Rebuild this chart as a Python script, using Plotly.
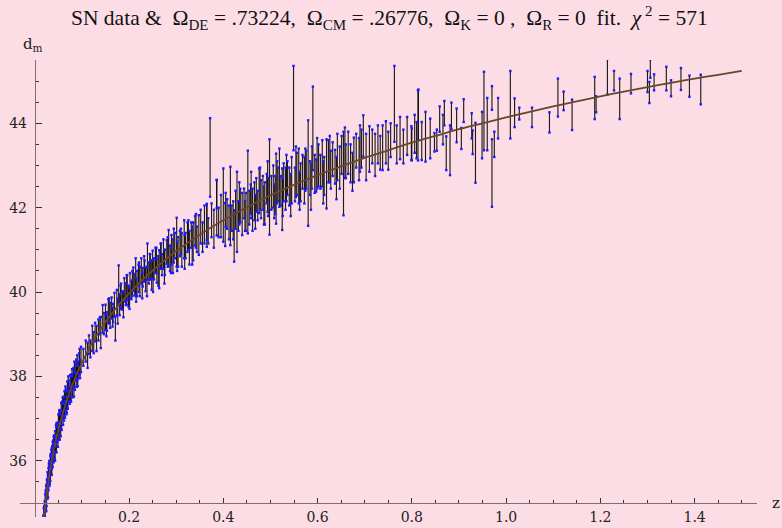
import numpy as np
import plotly.graph_objects as go

# ---------------- data ----------------
# low-z supernovae
z_low = [0.015,0.016,0.017,0.018,0.019,0.020,0.020,0.021,0.022,0.022,
         0.023,0.024,0.024,0.025,0.025,0.026,0.027,0.027,0.028,0.029,
         0.029,0.030,0.031,0.031,0.032,0.033,0.033,0.034,0.035,0.035,
         0.036,0.037,0.038,0.039,0.040,0.041,0.042,0.043,0.044,0.045,
         0.046,0.047,0.048,0.050,0.051,0.052,0.053,0.054,0.056,0.057,
         0.058,0.060,0.061,0.063,0.064,0.066,0.067,0.069,0.070,0.072,
         0.074,0.075,0.077,0.078,0.080,0.082,0.084,0.085,0.087,0.089,
         0.090,0.092,0.094,0.096,0.098]
mu_low = [34.10,34.30,34.28,34.55,34.50,34.78,34.62,34.90,34.85,35.05,
          35.10,34.98,35.25,35.30,35.12,35.40,35.25,35.55,35.50,35.62,
          35.45,35.72,35.60,35.85,35.80,35.95,35.72,36.00,35.88,36.10,
          36.05,36.20,36.05,36.30,36.18,36.40,36.30,36.52,36.40,36.62,
          36.50,36.70,36.62,36.85,36.70,36.95,36.80,37.00,37.12,36.95,
          37.20,37.10,37.30,37.35,37.22,37.45,37.30,37.58,37.45,37.65,
          37.55,37.78,37.70,37.85,37.75,37.98,38.05,37.88,38.12,38.00,
          38.20,38.15,38.30,38.18,38.40]
err_low = [0.20,0.18,0.20,0.15,0.18,0.15,0.20,0.14,0.20,0.15,
           0.12,0.18,0.15,0.14,0.20,0.16,0.15,0.18,0.14,0.20,
           0.15,0.16,0.20,0.15,0.18,0.16,0.20,0.15,0.22,0.16,
           0.25,0.15,0.20,0.18,0.22,0.20,0.25,0.18,0.20,0.22,
           0.30,0.20,0.18,0.25,0.20,0.22,0.30,0.20,0.25,0.22,
           0.20,0.25,0.22,0.30,0.20,0.25,0.20,0.30,0.22,0.25,
           0.20,0.25,0.30,0.20,0.25,0.22,0.30,0.20,0.22,0.25,
           0.30,0.20,0.25,0.22,0.30]

# further nearby supernovae
z_near = [0.016,0.018,0.019,0.021,0.023,0.024,0.026,0.028,0.030,0.032,
          0.034,0.036,0.038,0.040,0.043,0.046,0.049,0.052,0.055,0.059,
          0.062,0.065,0.068,0.071,0.076,0.079,0.083,0.088,0.091,0.095]
mu_near = [34.35,34.40,34.72,34.70,35.15,35.02,35.38,35.35,35.78,35.65,
           35.98,35.92,36.25,36.35,36.30,36.68,36.58,36.98,36.88,37.25,
           37.15,37.48,37.38,37.70,37.62,37.92,37.82,38.18,38.02,38.35]
err_near = [0.15,0.20,0.16,0.18,0.14,0.20,0.15,0.22,0.16,0.20,
            0.18,0.25,0.20,0.22,0.30,0.20,0.25,0.22,0.30,0.25,
            0.20,0.28,0.25,0.30,0.20,0.25,0.30,0.22,0.25,0.30]

# intermediate-z supernovae
z_mid = [0.103,0.108,0.112,0.115,0.118,0.122,0.125,0.128,0.131,0.135,
         0.138,0.140,0.144,0.147,0.150,0.153,0.156,0.160,0.163,0.166,
         0.171,0.174,0.178,0.180,0.183,0.186,0.190,0.193,0.196,0.199,
         0.202,0.205,0.209,0.212,0.214,0.217,0.220,0.223,0.226,0.229,
         0.232,0.235,0.239,0.242,0.245,0.248,0.250,0.253,0.256,0.259,
         0.264,0.267,0.270,0.273,0.276,0.280,0.284,0.287,0.290,0.293,
         0.297,0.301,0.304,0.308,0.312,0.317,0.320,0.324,0.328,0.332,
         0.336,0.340,0.344,0.348,0.352,0.356,0.360,0.365,0.365,0.368,
         0.372,0.375,0.380,0.386,0.386,0.390,0.395]
mu_mid = [38.45,38.60,38.50,38.75,38.65,38.90,38.80,39.05,38.90,39.10,
          39.20,39.04,39.36,39.25,39.40,39.30,39.55,39.45,39.62,39.50,
          39.13,39.75,40.18,39.70,39.90,39.80,40.05,39.95,40.10,39.90,
          40.15,40.05,40.30,40.18,40.35,40.20,40.40,40.25,40.50,40.35,
          40.55,40.30,40.72,40.45,40.60,40.40,40.64,40.55,40.75,40.50,
          40.54,40.85,40.65,40.90,40.70,40.95,41.04,40.80,41.00,40.85,
          41.10,41.18,40.95,41.15,41.00,41.25,41.10,41.30,41.05,41.35,
          41.20,41.45,41.25,41.35,41.55,41.30,41.60,41.57,41.66,41.45,
          43.19,41.70,41.50,42.00,42.32,41.65,41.80]
err_mid = [0.20,0.25,0.30,0.22,0.20,0.30,0.25,0.22,0.30,0.25,
           0.20,0.37,0.33,0.25,0.30,0.22,0.28,0.30,0.25,0.22,
           0.28,0.30,0.45,0.25,0.30,0.22,0.28,0.26,0.30,0.25,
           0.30,0.22,0.28,0.25,0.45,0.30,0.25,0.35,0.30,0.22,
           0.30,0.28,0.43,0.25,0.30,0.35,0.34,0.25,0.30,0.28,
           0.45,0.30,0.25,0.35,0.30,0.28,0.43,0.30,0.35,0.40,
           0.30,0.58,0.35,0.30,0.40,0.45,0.30,0.35,0.40,0.30,
           0.45,0.35,0.30,0.47,0.40,0.35,0.45,0.50,0.43,0.30,
           0.93,0.40,0.45,0.66,0.33,0.35,0.50]

# further supernovae in the 0.15 - 0.35 band
z_band = [0.152,0.158,0.165,0.169,0.176,0.182,0.188,0.195,0.201,0.207,
          0.215,0.221,0.228,0.233,0.238,0.244,0.251,0.258,0.262,0.268,
          0.275,0.282,0.289,0.295,0.302,0.310,0.318,0.326,0.334,0.342]
mu_band = [39.20,39.55,39.40,39.70,39.55,39.90,39.70,40.05,39.85,40.20,
           40.05,40.35,40.15,40.50,40.25,40.60,40.40,40.75,40.50,40.85,
           40.60,40.95,40.75,41.10,40.85,41.20,40.95,41.35,41.10,41.45]
err_band = [0.25,0.30,0.22,0.28,0.30,0.25,0.30,0.35,0.25,0.30,
            0.28,0.35,0.30,0.25,0.35,0.30,0.40,0.30,0.35,0.30,
            0.40,0.35,0.30,0.40,0.35,0.30,0.40,0.35,0.45,0.40]

# distant supernovae (0.4 < z < 1)
z_far = [0.400,0.404,0.408,0.412,0.415,0.418,0.423,0.426,0.429,0.432,
         0.436,0.440,0.444,0.448,0.452,0.455,0.458,0.462,0.466,0.470,
         0.473,0.476,0.480,0.484,0.488,0.492,0.495,0.498,0.502,0.506,
         0.510,0.512,0.516,0.519,0.522,0.525,0.528,0.532,0.536,0.540,
         0.545,0.549,0.552,0.556,0.560,0.564,0.568,0.572,0.576,0.580,
         0.584,0.588,0.590,0.594,0.597,0.602,0.606,0.610,0.614,0.619,
         0.623,0.628,0.632,0.637,0.642,0.647,0.651,0.655,0.660,0.665,
         0.670,0.677,0.682,0.688,0.693,0.697,0.703,0.710,0.716,0.722,
         0.728,0.733,0.738,0.745,0.750,0.755,0.763,0.768,0.775,0.782,
         0.790,0.799,0.800,0.806,0.810,0.813,0.814,0.821,0.829,0.839,
         0.848,0.853,0.859,0.866,0.869,0.873,0.881,0.884,0.895,0.905,
         0.910,0.927,0.929,0.935,0.949,0.953,0.960,0.970,0.970,0.975,
         0.983]
mu_far = [42.06,41.60,41.85,41.65,42.04,41.75,41.33,41.95,41.90,41.80,
          42.05,41.85,42.10,41.90,42.37,42.00,42.20,41.95,42.15,42.30,
          42.05,42.40,42.20,42.35,42.10,42.45,42.25,42.49,42.35,42.50,
          42.30,42.45,42.55,42.71,42.40,42.20,42.60,42.45,42.70,42.50,
          42.65,44.36,42.55,42.80,42.75,42.60,42.85,42.65,42.90,42.82,
          42.70,42.95,43.88,42.80,42.76,43.00,42.85,43.05,42.75,42.80,
          43.10,42.90,43.15,42.97,43.20,42.95,43.25,42.81,43.10,43.30,
          43.05,43.13,43.35,43.15,43.40,43.70,43.20,43.39,43.45,43.25,
          43.50,43.30,43.42,43.55,43.35,43.60,44.46,43.50,43.65,43.45,
          43.70,43.53,43.50,43.75,43.60,43.95,44.20,43.58,43.68,43.64,
          43.55,43.60,44.10,43.85,44.24,43.29,43.36,44.18,43.95,43.64,
          44.30,43.94,43.55,43.30,43.72,44.29,43.98,44.60,42.82,43.50,
          44.12]
err_far = [0.87,0.51,0.35,0.40,0.93,0.30,0.61,0.45,0.95,0.35,
           0.40,0.50,0.35,0.45,0.98,0.40,0.35,0.50,0.45,0.40,
           0.35,0.53,0.45,0.40,0.50,0.35,0.45,1.13,0.40,0.50,
           0.45,0.83,0.40,0.69,0.35,0.73,0.45,0.50,0.40,0.45,
           0.55,1.00,0.40,0.50,0.65,0.45,0.40,0.55,0.45,1.25,
           0.40,0.50,0.99,0.45,0.38,0.50,0.40,0.55,0.45,0.82,
           0.50,0.45,0.40,0.40,0.55,0.50,0.45,0.99,0.40,0.50,
           0.45,0.53,0.40,0.50,0.45,0.49,0.55,0.54,0.40,0.50,
           0.45,0.40,0.53,0.50,0.45,0.40,0.90,0.45,0.50,0.40,
           0.45,0.40,0.38,0.45,0.43,0.83,0.60,0.45,0.59,0.47,
           0.22,0.25,0.30,0.35,0.29,0.40,0.59,0.31,0.40,0.25,
           0.27,0.30,0.28,0.71,0.55,0.93,0.62,0.28,0.80,0.30,
           0.48]

# further supernovae in the 0.4 - 0.7 band
z_deep = [0.405,0.421,0.434,0.446,0.459,0.468,0.478,0.486,0.494,0.508,
          0.514,0.526,0.534,0.543,0.554,0.562,0.574,0.586,0.599,0.612,
          0.626,0.640,0.658,0.674,0.690]
mu_deep = [41.95,41.70,42.10,41.80,42.30,41.90,42.45,42.05,42.50,42.15,
           42.60,42.25,42.70,42.30,42.85,42.40,42.90,42.50,43.05,42.60,
           43.15,42.70,43.30,42.85,43.40]
err_deep = [0.40,0.45,0.50,0.35,0.55,0.40,0.50,0.45,0.60,0.40,
            0.50,0.45,0.55,0.50,0.60,0.45,0.50,0.55,0.60,0.50,
            0.55,0.50,0.60,0.45,0.55]

# highest-z supernovae (z > 1)
z_high = [1.009,1.018,1.028,1.055,1.092,1.110,1.122,1.140,1.188,1.191,
          1.215,1.229,1.241,1.265,1.300,1.304,1.306,1.314,1.340,1.350,
          1.371,1.389,1.413]
mu_high = [44.44,44.25,44.23,44.14,44.02,44.61,44.53,44.20,44.60,44.45,
           45.10,45.01,44.58,44.94,44.99,44.73,45.30,44.97,45.06,44.83,
           45.05,44.88,44.80]
err_high = [0.80,0.34,0.14,0.23,0.24,0.45,0.22,0.36,0.50,0.19,
            0.42,0.23,0.48,0.23,0.25,0.25,0.22,0.19,0.28,0.19,
            0.26,0.25,0.35]

# fitted curve
z_fit = [0.015,0.020,0.025,0.030,0.040,0.050,0.060,0.070,0.080,0.090,
         0.100,0.120,0.140,0.160,0.180,0.200,0.250,0.300,0.350,0.400,
         0.450,0.500,0.550,0.600,0.650,0.700,0.750,0.800,0.850,0.900,
         0.950,1.000,1.050,1.100,1.150,1.200,1.250,1.300,1.350,1.400,
         1.450,1.500]
mu_fit = [34.07,34.70,35.19,35.60,36.24,36.74,37.15,37.50,37.81,38.08,
          38.32,38.76,39.12,39.44,39.72,39.97,40.51,40.97,41.36,41.70,
          42.01,42.29,42.54,42.77,42.98,43.18,43.36,43.54,43.70,43.86,
          44.00,44.14,44.27,44.40,44.52,44.64,44.75,44.86,44.96,45.06,
          45.15,45.24]

x_tick_vals = [0.2, 0.4, 0.6, 0.8, 1.0, 1.2, 1.4]
x_tick_text = ["0.2", "0.4", "0.6", "0.8", "1.0", "1.2", "1.4"]
y_tick_vals = [36, 38, 40, 42, 44]
y_tick_text = ["36", "38", "40", "42", "44"]

# ---------------- figure ----------------
z_all = np.array(z_low + z_near + z_mid + z_band + z_far + z_deep + z_high)
mu_all = np.array(mu_low + mu_near + mu_mid + mu_band + mu_far + mu_deep + mu_high)
err_all = np.array(err_low + err_near + err_mid + err_band + err_far + err_deep + err_high)

BG = "#fcdde5"
SERIF = "DejaVu Serif"

fig = go.Figure()

# error bars
fig.add_trace(go.Scatter(
    x=z_all, y=mu_all, mode="markers",
    marker=dict(size=0.1, color="rgba(0,0,0,0)"),
    error_y=dict(type="data", array=err_all, visible=True,
                 color="rgba(15,10,10,0.92)", thickness=1.15, width=0),
    hoverinfo="skip", showlegend=False))

# blue end points of the bars
fig.add_trace(go.Scatter(
    x=np.concatenate([z_all, z_all]),
    y=np.concatenate([mu_all + err_all, mu_all - err_all]),
    mode="markers",
    marker=dict(symbol="square", size=2.4, color="#1a1aff", line=dict(width=0)),
    hoverinfo="skip", showlegend=False))

# fit curve
fig.add_trace(go.Scatter(
    x=z_fit, y=mu_fit, mode="lines",
    line=dict(color="#6a4626", width=1.8, shape="spline", smoothing=0.8),
    hoverinfo="skip", showlegend=False))

W, H = 782, 528
px_left, px_right = 20, 757       # horizontal extent of the axis line
py_top, py_bot = 60, 517          # vertical extent of the axis line
z0_px, z_scale = 34.8, 471.3      # pixel position of z=0, pixels per unit z
y35_py, y_scale = 502.9, 42.18    # pixel position of d=35, pixels per unit

xr = [(px_left - z0_px) / z_scale, (px_right - z0_px) / z_scale]
yr = [35 - (py_bot - y35_py) / y_scale, 35 + (y35_py - py_top) / y_scale]

axis_col = "#7a7272"
tick_col = "#333333"
fig.update_layout(
    width=W, height=H,
    margin=dict(l=0, r=0, t=0, b=0),
    paper_bgcolor=BG, plot_bgcolor=BG,
    showlegend=False,
    xaxis=dict(
        domain=[px_left / W, px_right / W],
        range=xr, anchor="free", position=(H - y35_py) / H,
        showgrid=False, zeroline=False,
        showline=True, linecolor=axis_col, linewidth=1.3,
        tickmode="array", tickvals=x_tick_vals, ticktext=x_tick_text,
        ticks="inside", ticklen=5, tickwidth=1, tickcolor=tick_col,
        minor=dict(tickmode="array",
                   tickvals=[round(0.05 * k, 2) for k in range(1, 31) if k % 4 != 0],
                   ticks="inside", ticklen=3, tickwidth=1, tickcolor=tick_col),
        tickfont=dict(family=SERIF, size=14, color="#222"),
        ticklabelstandoff=1,
    ),
    yaxis=dict(
        domain=[(H - py_bot) / H, (H - py_top) / H],
        range=yr, anchor="free", position=z0_px / W,
        showgrid=False, zeroline=False,
        showline=True, linecolor=axis_col, linewidth=1.3,
        tickmode="array", tickvals=y_tick_vals, ticktext=y_tick_text,
        ticks="inside", ticklen=6, tickwidth=1, tickcolor=tick_col,
        minor=dict(tickmode="array",
                   tickvals=[35.5 + k for k in range(0, 11)] + [37, 39, 41, 43, 45],
                   ticks="inside", ticklen=3, tickwidth=1, tickcolor=tick_col),
        tickfont=dict(family=SERIF, size=14, color="#222"),
        ticklabelstandoff=5,
    ),
    annotations=[
        dict(text="SN data &  Ω<sub>DE</sub> = .73224,  Ω<sub>CM</sub> = .26776,  "
                  "Ω<sub>K</sub> = 0 ,  Ω<sub>R</sub> = 0  fit.  <i>χ</i><sup> 2</sup> = 571",
             xref="paper", yref="paper", x=389 / W, y=1 - 18 / H,
             xanchor="center", yanchor="middle", showarrow=False,
             font=dict(family="Liberation Serif", size=21.5, color="#111")),
        dict(text="d<sub>m</sub>", xref="paper", yref="paper",
             x=21 / W, y=1 - 44 / H, xanchor="left", yanchor="middle",
             showarrow=False, font=dict(family=SERIF, size=15, color="#222")),
        dict(text="z", xref="paper", yref="paper",
             x=776 / W, y=1 - 503 / H, xanchor="center", yanchor="middle",
             showarrow=False, font=dict(family=SERIF, size=15, color="#222")),
    ],
)

fig.write_html(
    "out.html",
    config={"displayModeBar": False, "staticPlot": True},
    post_script="document.body.style.margin='0';"
                "document.body.style.background='" + BG + "';"
                "document.body.style.overflow='hidden';",
)
